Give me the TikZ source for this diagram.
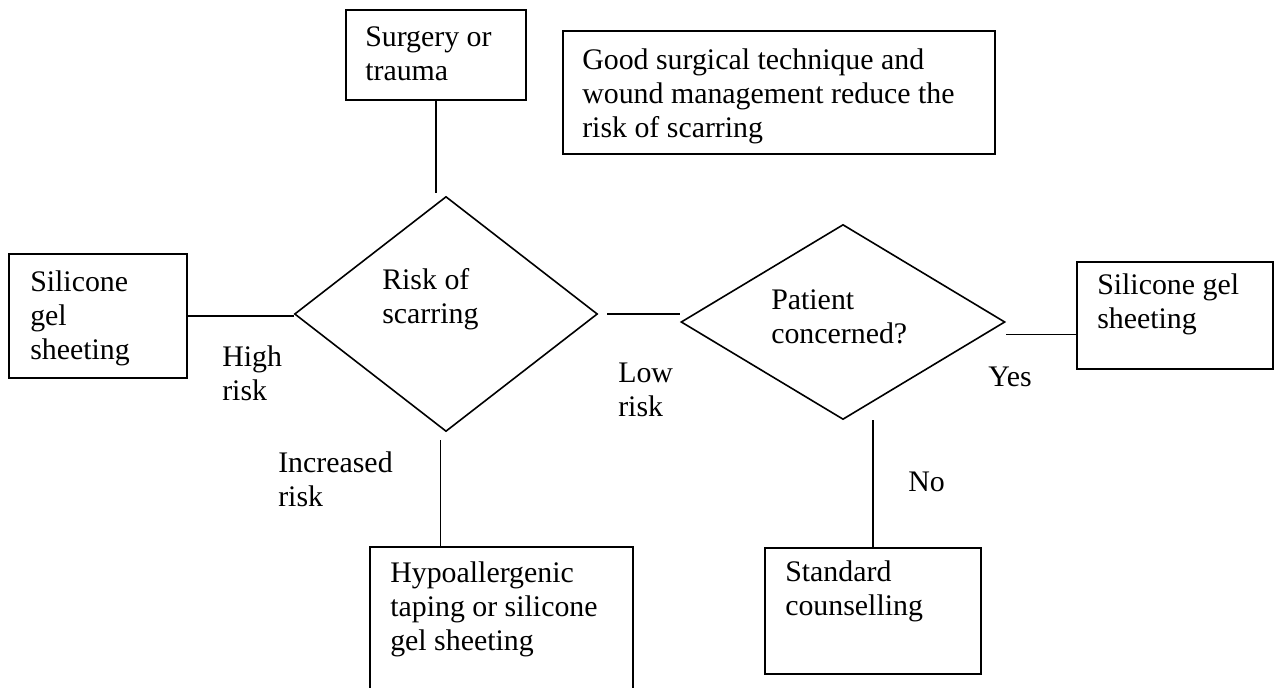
\documentclass[tikz,border=0pt]{standalone}
\usepackage{fontspec}
\setmainfont{Liberation Serif}
\usetikzlibrary{shapes.geometric}
\begin{document}
\begin{tikzpicture}[x=0.75pt,y=-0.75pt,
  box/.style={draw,line width=1.2pt,inner sep=0pt,anchor=north west},
  dia/.style={draw,line width=1.2pt,diamond,inner sep=0pt},
  txt/.style={inner sep=0pt,anchor=base west,align=left,
    font=\fontsize{22.4}{25.5}\selectfont},
  conn/.style={line width=1.2pt}]
\path[use as bounding box] (0,0) rectangle (1275,688);
\clip (0,0) rectangle (1275,688);
% boxes
\node[box,minimum width=135pt,minimum height=67.5pt] (sur) at (345,9) {};
\node[box,minimum width=324pt,minimum height=92.25pt] (good) at (562,30) {};
\node[box,minimum width=133.5pt,minimum height=93pt] (lsg) at (8,253) {};
\node[box,minimum width=147pt,minimum height=80.25pt] (rsg) at (1076,261) {};
\node[box,minimum width=197.25pt,minimum height=115.5pt] (hypo) at (369,546) {};
\node[box,minimum width=162pt,minimum height=94.5pt] (std) at (764,547) {};
% diamonds
\node[dia,minimum width=227.25pt,minimum height=176.25pt] (d1) at (446,314) {};
\node[dia,minimum width=243pt,minimum height=146.25pt] (d2) at (843,322) {};
% texts (anchor = baseline of last line)
\node[txt] (surT) at (365,80.5) {Surgery or\\trauma};
\node[txt] (goodT) at (582,137.5) {Good surgical technique and\\wound management reduce the\\risk of scarring};
\node[txt] (lsgT) at (30,359) {Silicone\\gel\\sheeting};
\node[txt] (rsgT) at (1097,328) {Silicone gel\\sheeting};
\node[txt] (hypoT) at (390,650) {Hypoallergenic\\taping or silicone\\gel sheeting};
\node[txt] (stdT) at (785,615) {Standard\\counselling};
\node[txt] (d1T) at (382,323) {Risk of\\scarring};
\node[txt] (d2T) at (771,343) {Patient\\concerned?};
\node[txt] (high) at (222,400) {High\\risk};
\node[txt] (low) at (618,416) {Low\\risk};
\node[txt] (incr) at (278,506) {Increased\\risk};
\node[txt] (yes) at (988,386) {Yes};
\node[txt] (no) at (908,491) {No};
% connectors
\draw[conn] (sur.south) -- ([yshift=2pt]sur.south |- d1.north);
\draw[conn] (lsg.east) -- (lsg.east -| d1.west);
\draw[conn] ([xshift=6.75pt]d1.east) -- (d2.west |- d1.east);
\draw[conn] ([yshift=-14.25pt]rsg.west) -- ([yshift=-14.25pt]rsg.west -| d2.east);
\draw[conn] (std.north) -- (std.north |- d2.south);
\draw[conn] ([xshift=-4pt]d1.south |- hypo.north) -- ([xshift=-4pt,yshift=-6pt]d1.south);
\end{tikzpicture}
\end{document}
